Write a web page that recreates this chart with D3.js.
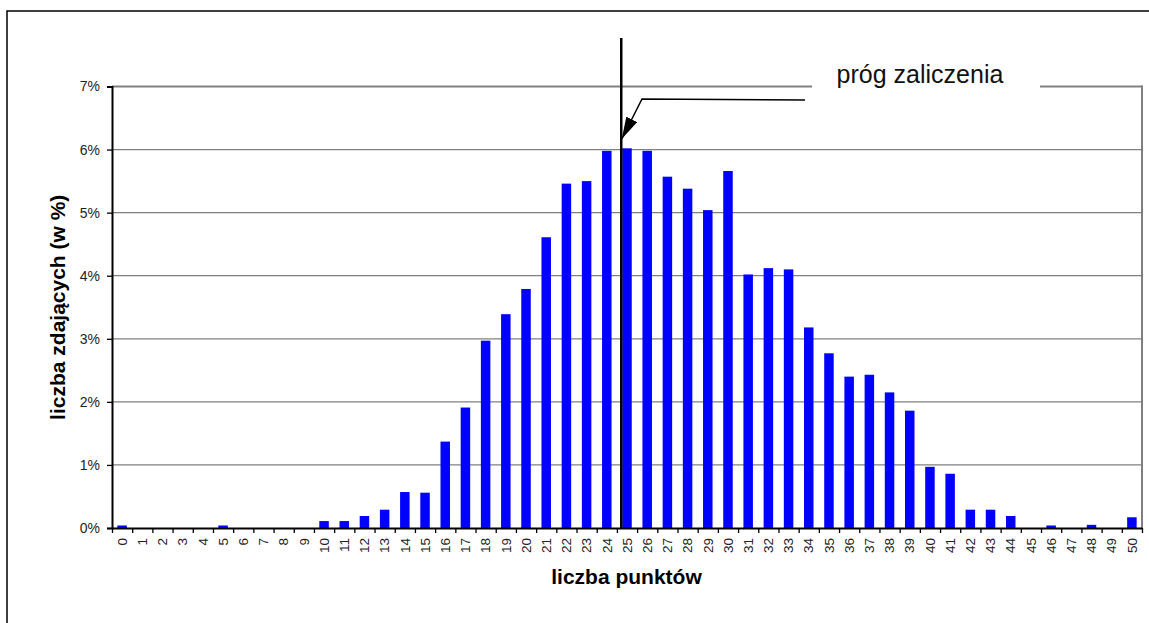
<!DOCTYPE html>
<html>
<head>
<meta charset="utf-8">
<script src="https://cdn.jsdelivr.net/npm/d3@7"></script>
<style>
  body { margin: 0; background: #fff; }
  svg { display: block; font-family: Arial, "Liberation Sans", sans-serif; }
</style>
</head>
<body>
<svg width="1149" height="623"></svg>
<script>
// points scored (x categories)
const points = d3.range(0, 51).map(String);
// share of students with that score, in %
const share = [
  0.04, 0, 0, 0, 0, 0.04, 0, 0, 0, 0,
  0.11, 0.11, 0.19, 0.29, 0.57, 0.56, 1.37, 1.91, 2.97, 3.39,
  3.79, 4.61, 5.46, 5.50, 5.98, 6.02, 5.98, 5.57, 5.38, 5.04,
  5.66, 4.02, 4.12, 4.10, 3.18, 2.77, 2.40, 2.43, 2.15, 1.86,
  0.97, 0.86, 0.29, 0.29, 0.19, 0, 0.04, 0, 0.05, 0,
  0.17
];
const yTicks = [0, 1, 2, 3, 4, 5, 6, 7];
const threshold = "25";
const thresholdLabel = "próg zaliczenia";

const svg = d3.select("svg");
const plotLeft = 112, plotRight = 1142, plotTop = 86.5, plotBottom = 528;

// outer frame (runs past the right/bottom edge of the picture)
svg.append("rect")
  .attr("x", 7).attr("y", 11)
  .attr("width", 1160).attr("height", 640)
  .attr("fill", "none").attr("stroke", "#000").attr("stroke-width", 1.5);

const x = d3.scaleBand()
  .domain(points)
  .range([plotLeft, plotRight])
  .paddingInner(0.53)
  .paddingOuter(0.265);

const y = d3.scaleLinear().domain([0, 7]).range([plotBottom, plotTop]);

// gridlines
svg.append("g")
  .selectAll("line")
  .data(yTicks.filter(d => d > 0))
  .enter().append("line")
  .attr("x1", plotLeft).attr("x2", plotRight)
  .attr("y1", d => y(d)).attr("y2", d => y(d))
  .attr("stroke", "#808080")
  .attr("stroke-width", d => d === 7 ? 2 : 1.3);

// right border of plot area
svg.append("line")
  .attr("x1", plotRight).attr("x2", plotRight)
  .attr("y1", y(7) - 1).attr("y2", plotBottom)
  .attr("stroke", "#808080").attr("stroke-width", 2);

// bars
svg.append("g")
  .selectAll("rect")
  .data(share)
  .enter().append("rect")
  .attr("x", (d, i) => x(points[i]))
  .attr("width", x.bandwidth())
  .attr("y", d => y(d))
  .attr("height", d => plotBottom - y(d))
  .attr("fill", "#0000ff");

// y axis
const yAxis = svg.append("g")
  .attr("transform", `translate(${plotLeft},0)`)
  .call(d3.axisLeft(y).tickValues(yTicks).tickFormat(d => d + "%").tickSize(5).tickPadding(7));
yAxis.select(".domain").attr("stroke", "#000").attr("stroke-width", 2);
yAxis.selectAll(".tick line").attr("stroke", "#000").attr("stroke-width", 1.3);
yAxis.selectAll("text").attr("font-size", 14).attr("fill", "#222").attr("font-family", "Arial, 'Liberation Sans', sans-serif");

// x axis line and boundary ticks
const xb = d3.scaleLinear().domain([0, points.length]).range([plotLeft, plotRight]);
const xAxis = svg.append("g")
  .attr("transform", `translate(0,${plotBottom})`)
  .call(d3.axisBottom(xb).tickValues(d3.range(0, points.length + 1)).tickFormat("").tickSize(5).tickSizeOuter(0));
xAxis.select(".domain").attr("stroke", "#000").attr("stroke-width", 2);
xAxis.selectAll(".tick line").attr("stroke", "#000").attr("stroke-width", 1.3);

// x tick labels, rotated
svg.append("g")
  .selectAll("text")
  .data(points)
  .enter().append("text")
  .attr("transform", d => `translate(${x(d) + x.bandwidth() / 2},538) rotate(-90)`)
  .attr("text-anchor", "end")
  .attr("dy", "0.35em")
  .attr("font-size", 13.5)
  .attr("fill", "#222")
  .text(d => d);

// axis titles
svg.append("text")
  .attr("x", (plotLeft + plotRight) / 2 - 0.5)
  .attr("y", 584)
  .attr("text-anchor", "middle")
  .attr("font-size", 21).attr("font-weight", "bold")
  .text("liczba punktów");

svg.append("text")
  .attr("transform", `translate(65,${(plotTop + plotBottom) / 2}) rotate(-90)`)
  .attr("text-anchor", "middle")
  .attr("font-size", 21).attr("font-weight", "bold")
  .text("liczba zdających (w %)");

// threshold line
const tx = x(threshold) - 1;
svg.append("line")
  .attr("x1", tx).attr("x2", tx)
  .attr("y1", 38).attr("y2", plotBottom)
  .attr("stroke", "#000").attr("stroke-width", 2.5);

// label box over the top border
svg.append("rect")
  .attr("x", 812).attr("y", 62).attr("width", 228).attr("height", 32)
  .attr("fill", "#fff");
svg.append("text")
  .attr("x", 920).attr("y", 83)
  .attr("text-anchor", "middle")
  .attr("font-size", 25)
  .attr("fill", "#111")
  .text(thresholdLabel);

// leader with arrow
svg.append("defs").append("marker")
  .attr("id", "arrow")
  .attr("viewBox", "0 0 22 12")
  .attr("refX", 22).attr("refY", 6)
  .attr("markerWidth", 22).attr("markerHeight", 12)
  .attr("markerUnits", "userSpaceOnUse")
  .attr("orient", "auto")
  .append("path")
  .attr("d", "M0,0 L22,6 L0,12 z")
  .attr("fill", "#000");
svg.append("polyline")
  .attr("points", `805,100 642,99 ${tx + 0.5},139`)
  .attr("fill", "none")
  .attr("stroke", "#000")
  .attr("stroke-width", 1.5)
  .attr("marker-end", "url(#arrow)");
</script>
</body>
</html>
